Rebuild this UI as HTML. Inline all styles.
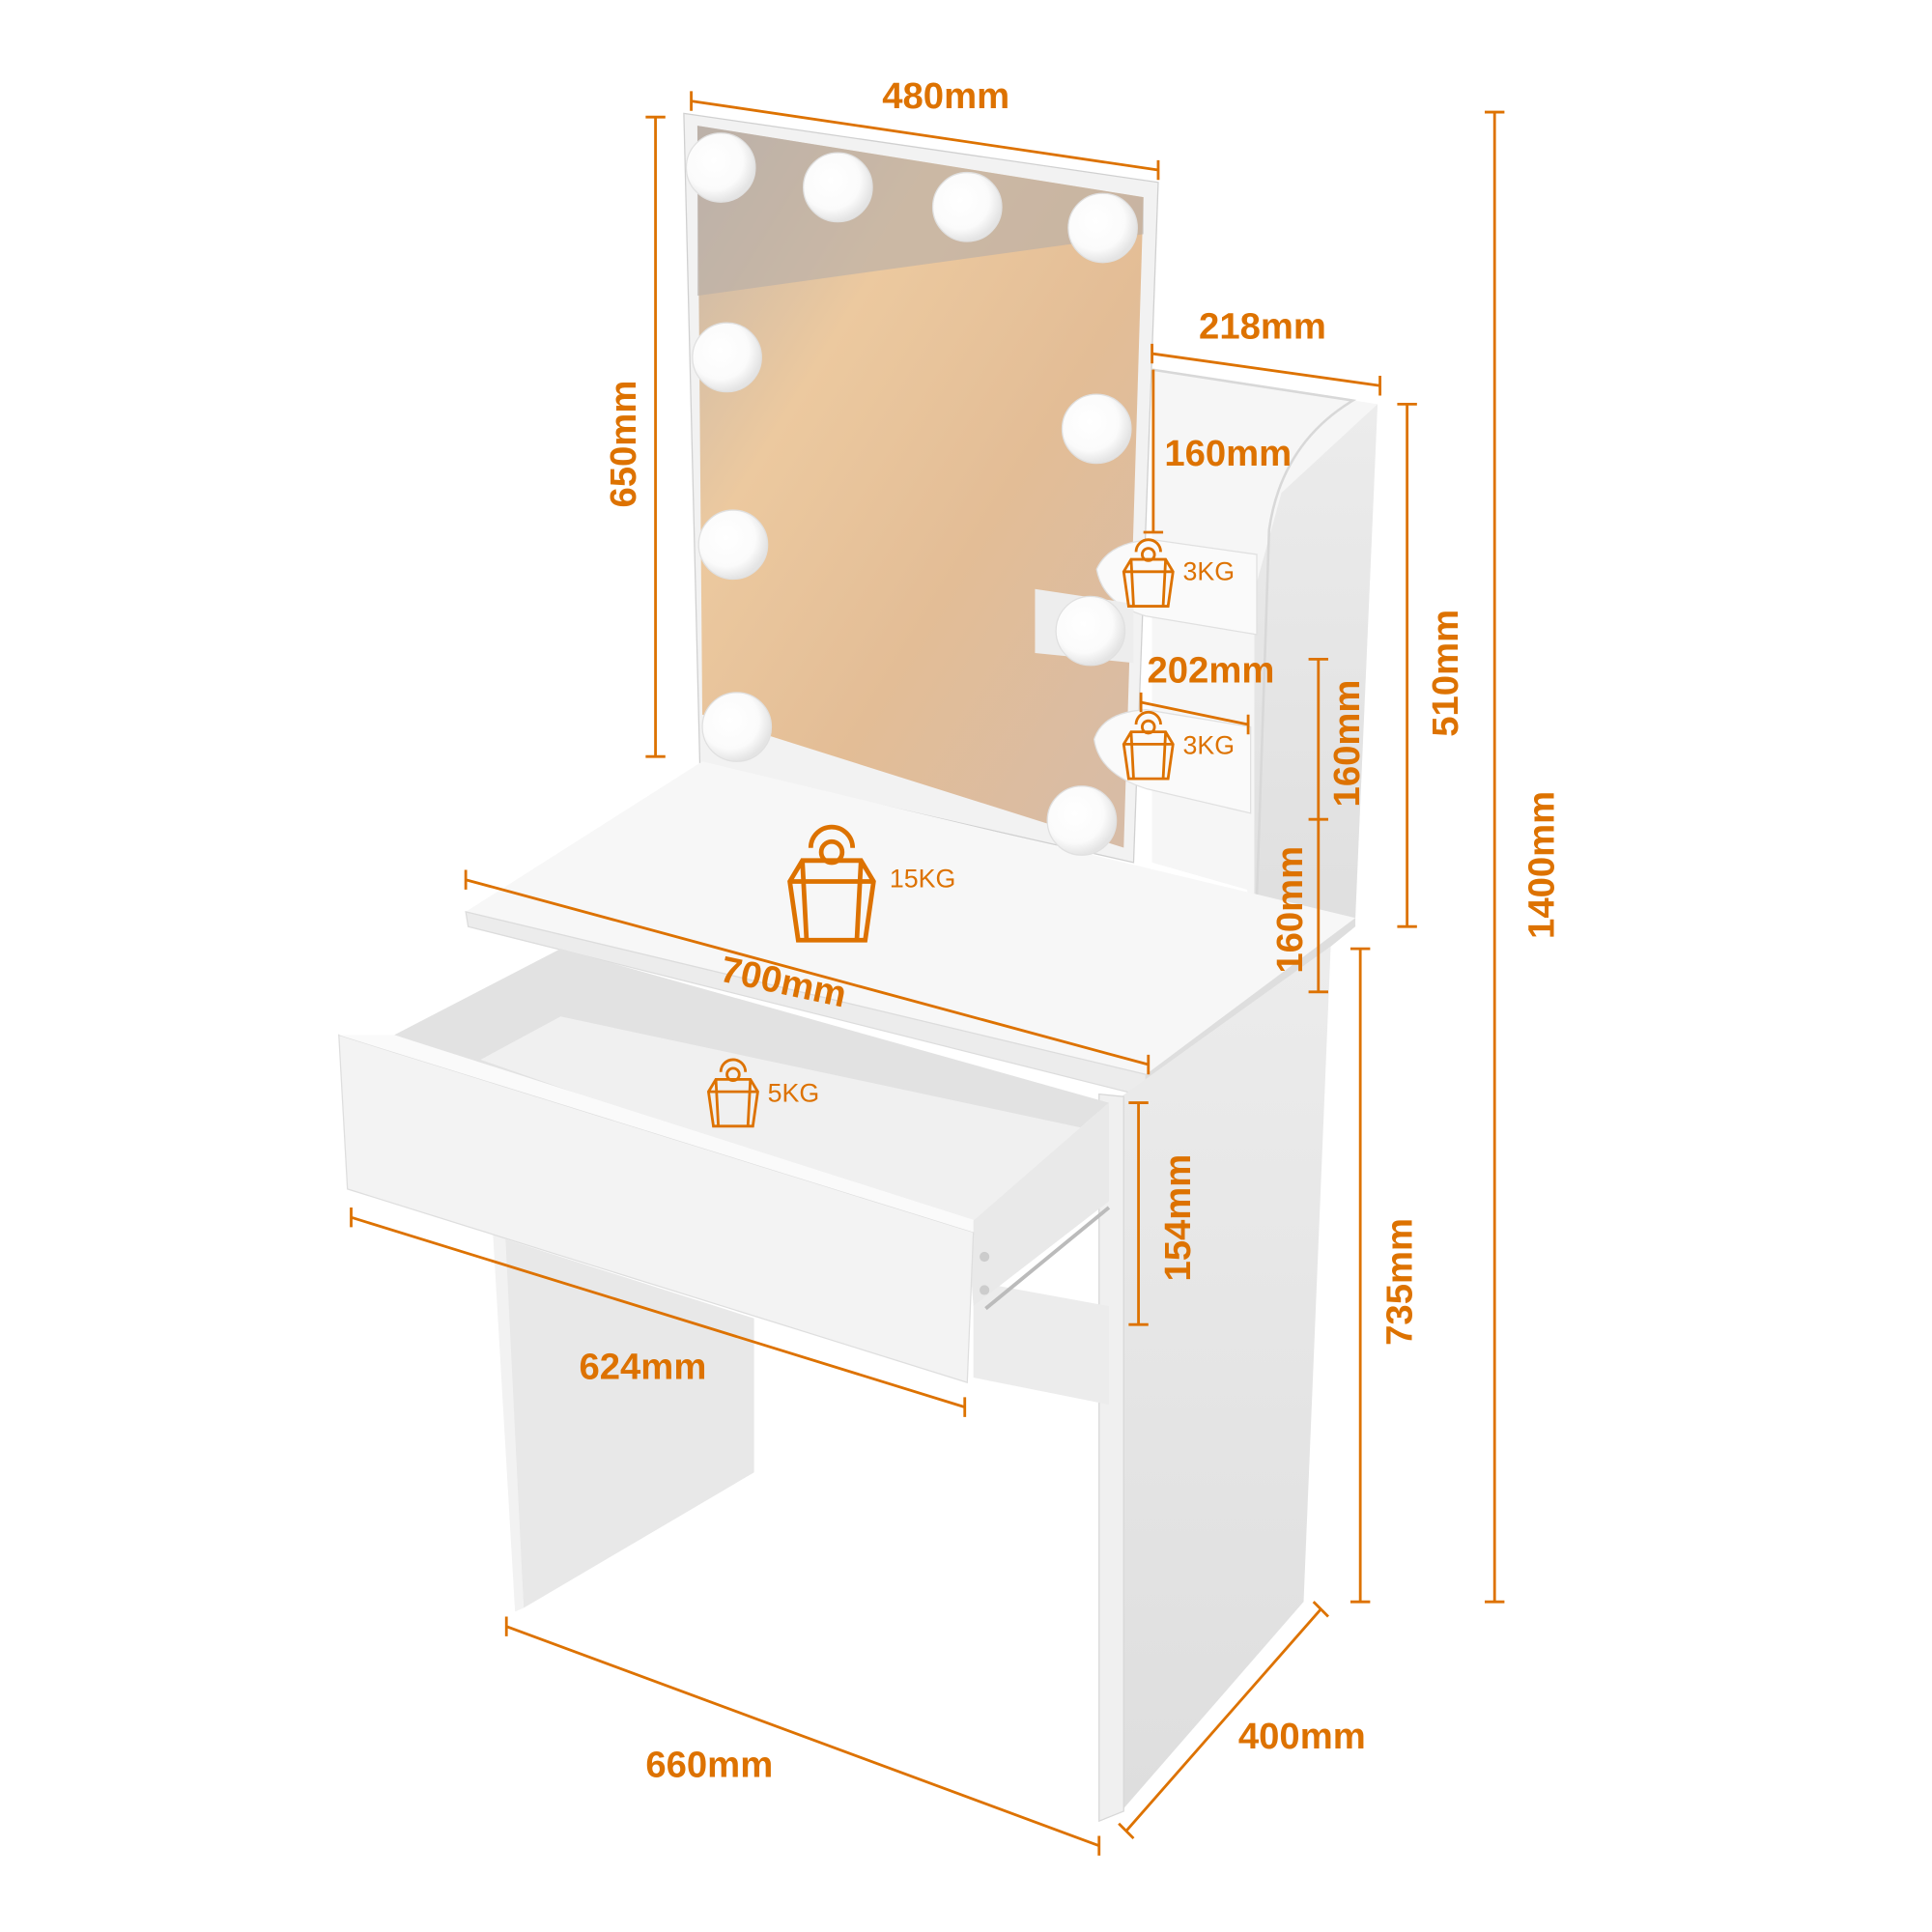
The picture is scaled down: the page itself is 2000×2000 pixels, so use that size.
<!DOCTYPE html>
<html><head><meta charset="utf-8"><style>
html,body{margin:0;padding:0;background:#fff}
svg{display:block}
text{font-family:"Liberation Sans",Arial,sans-serif;font-weight:bold;fill:#DD7200}
.d{stroke:#DD7200;stroke-width:2.2;fill:none}
.k{font-weight:normal;font-size:21px}
</style></head><body>
<svg width="2000" height="2000" viewBox="0 0 1568 1568" xmlns="http://www.w3.org/2000/svg">
<defs>
<linearGradient id="wood" x1="0" y1="0" x2="1" y2="1">
<stop offset="0" stop-color="#c4b6aa"/><stop offset="0.3" stop-color="#ecc99f"/><stop offset="0.6" stop-color="#e3bd96"/><stop offset="1" stop-color="#d6bca8"/></linearGradient>
<radialGradient id="bulb" cx="0.4" cy="0.4" r="0.6"><stop offset="0" stop-color="#fff"/><stop offset="0.7" stop-color="#fbfbfb"/><stop offset="1" stop-color="#e4e4e4"/></radialGradient>
<linearGradient id="side" x1="0" y1="0" x2="0" y2="1"><stop offset="0" stop-color="#ececec"/><stop offset="1" stop-color="#dedede"/></linearGradient>
<g id="wt"><path d="M-10,-14 a10,10 0 1,1 20,0" class="d" stroke-width="1.6"/><circle cx="0" cy="-12" r="5" class="d" stroke-width="1.6"/><path d="M-14,-8 L14,-8 L20,2 L16,30 L-16,30 L-20,2 Z M-14,-8 L-12,30 M14,-8 L12,30 M-20,2 L20,2" class="d" stroke-width="1.6"/></g>
</defs>
<!-- mirror -->
<polygon points="555,92 940,148 920,700 568,620" fill="#f2f2f2" stroke="#d0d0d0"/>
<polygon points="566,102 928,160 912,688 570,580" fill="url(#wood)"/>
<polygon points="566,102 928,160 928,190 566,240" fill="#b5aea8" opacity="0.6"/>
<!-- hutch -->
<polygon points="935,300 1118,328 1100,745 1020,760 1012,722 935,700" fill="#f6f6f6"/>
<polygon points="1040,400 1118,328 1100,745 1018,790 1018,480" fill="url(#side)"/>
<path d="M935,300 L1098,325 Q1040,360 1030,430 L1018,790" fill="none" stroke="#d8d8d8" stroke-width="2"/>
<path d="M890,462 Q900,440 935,438 L1020,450 L1020,515 L930,500 Q895,490 890,462Z" fill="#fafafa" stroke="#e0e0e0"/>
<path d="M888,600 Q895,578 930,576 L1015,590 L1015,660 L930,640 Q892,628 888,600Z" fill="#fafafa" stroke="#e0e0e0"/>
<polygon points="840,478 920,490 920,538 840,530" fill="#ededed"/>
<!-- desk top -->
<polygon points="378,740 570,618 1100,745 930,872" fill="#f7f7f7"/>
<polygon points="378,740 930,872 930,890 380,752" fill="#ececec" stroke="#dcdcdc"/>
<polygon points="930,872 1100,745 1100,752 930,890" fill="#dedede"/>
<!-- right leg -->
<polygon points="910,890 1080,768 1058,1300 910,1470" fill="url(#side)"/>
<polygon points="892,888 912,890 912,1470 892,1478" fill="#f0f0f0" stroke="#d8d8d8"/>
<!-- left leg -->
<polygon points="408,1005 612,1070 612,1195 425,1305" fill="#e8e8e8"/>
<polygon points="400,1000 410,1000 425,1305 418,1308" fill="#f2f2f2"/>
<!-- back rail -->
<polygon points="790,1040 900,1060 900,1140 790,1118" fill="#ececec"/>
<!-- drawer -->
<polygon points="320,840 455,770 900,895 785,995" fill="#e2e2e2"/>
<polygon points="390,860 455,825 900,920 790,1000" fill="#f0f0f0"/>
<polygon points="785,995 900,895 900,975 790,1060" fill="#e9e9e9"/>
<polygon points="275,840 790,1000 785,1122 282,965" fill="#f3f3f3" stroke="#dedede"/>
<polygon points="275,840 320,840 790,990 790,1000" fill="#fafafa"/>
<line x1="800" y1="1062" x2="900" y2="980" stroke="#bbb" stroke-width="3"/>
<circle cx="799" cy="1020" r="4" fill="#ccc"/><circle cx="799" cy="1047" r="4" fill="#ccc"/>
<!-- bulbs -->
<g fill="url(#bulb)" stroke="#e0e0e0" stroke-width="1">
<circle cx="585" cy="136" r="28"/><circle cx="680" cy="152" r="28"/><circle cx="785" cy="168" r="28"/><circle cx="895" cy="185" r="28"/>
<circle cx="590" cy="290" r="28"/><circle cx="890" cy="348" r="28"/>
<circle cx="595" cy="442" r="28"/><circle cx="885" cy="512" r="28"/>
<circle cx="598" cy="590" r="28"/><circle cx="878" cy="666" r="28"/>
</g>
<!-- dimension lines -->
<g class="d">
<path d="M561,82 L940,138 M561,74 V90 M940,130 V146"/>
<path d="M532,95 V614 M524,95 H540 M524,614 H540"/>
<path d="M935,287 L1120,313 M935,279 V295 M1120,305 V321"/>
<path d="M936,300 V432 M928,432 H944"/>
<path d="M926,570 L1013,588 M926,562 V578 M1013,580 V596"/>
<path d="M1070,535 V805 M1062,535 H1078 M1062,665 H1078 M1062,805 H1078"/>
<path d="M1142,328 V752 M1134,328 H1150 M1134,752 H1150"/>
<path d="M1213,91 V1300 M1205,91 H1221 M1205,1300 H1221"/>
<path d="M1104,770 V1300 M1096,770 H1112 M1096,1300 H1112"/>
<path d="M378,714 L932,864 M378,706 V722 M932,856 V872"/>
<path d="M924,895 V1075 M916,895 H932 M916,1075 H932"/>
<path d="M285,988 L783,1142 M285,980 V996 M783,1134 V1150"/>
<path d="M411,1320 L892,1498 M411,1312 V1328 M892,1490 V1506"/>
<path d="M914,1486 L1072,1306 M908,1480 L920,1492 M1066,1300 L1078,1312"/>
</g>
<use href="#wt" x="932" y="462"/><use href="#wt" x="932" y="602"/>
<use href="#wt" x="595" y="884"/>
<use href="#wt" transform="translate(675,712) scale(1.7)"/>
<g font-size="30">
<text x="716" y="88">480mm</text>
<text x="973" y="275">218mm</text>
<text x="945" y="378">160mm</text>
<text x="931" y="554">202mm</text>
<text x="470" y="1119">624mm</text>
<text x="524" y="1442">660mm</text>
<text x="1005" y="1419">400mm</text>
<text x="582" y="808" transform="rotate(12 640 808)">700mm</text>
<text transform="translate(516,412) rotate(-90)">650mm</text>
<text transform="translate(1183,598) rotate(-90)">510mm</text>
<text transform="translate(1103,655) rotate(-90)">160mm</text>
<text transform="translate(1057,790) rotate(-90)">160mm</text>
<text transform="translate(1261,762) rotate(-90)">1400mm</text>
<text transform="translate(1146,1092) rotate(-90)">735mm</text>
<text transform="translate(966,1040) rotate(-90)">154mm</text>
</g>
<text class="k" x="960" y="471">3KG</text>
<text class="k" x="960" y="612">3KG</text>
<text class="k" x="722" y="720">15KG</text>
<text class="k" x="623" y="894">5KG</text>
</svg>
</body></html>
